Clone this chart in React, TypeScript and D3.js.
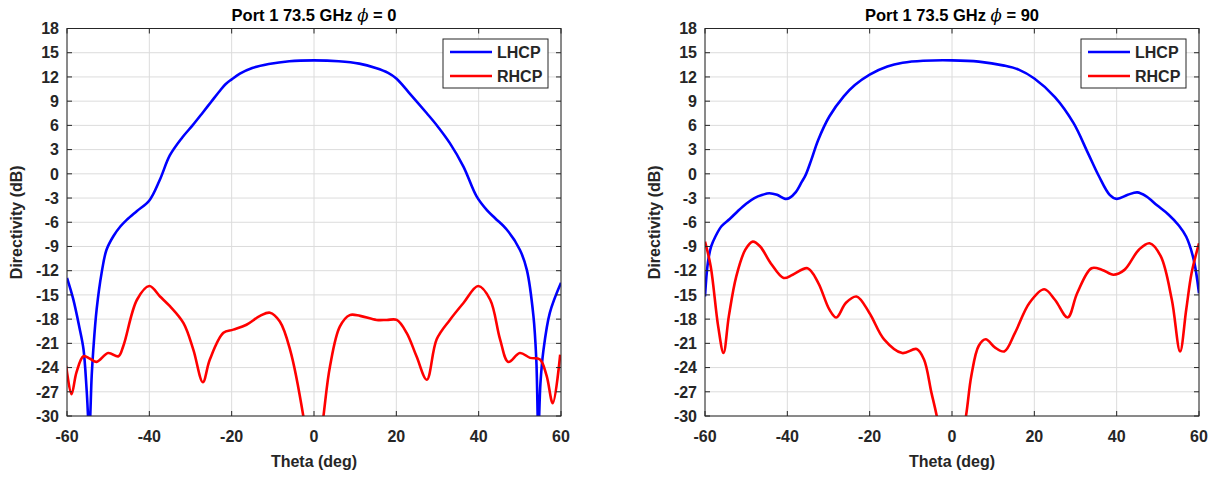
import React, { useEffect, useRef } from "react";
import * as d3 from "d3";

// ---- Data: phi = 0 cut ----
const thetaLhcp0 = [-60, -58.5, -57, -56, -55.2, -54.6, -54, -53.6, -52.8, -51.6, -50.4, -48.7, -47, -45.5, -43, -40, -37.5, -35, -32, -29.5, -27, -25, -23, -21.5, -20, -18, -15, -11, -6, 0, 6, 11, 15, 18, 20, 23, 27.4, 30, 33, 36.3, 39.5, 42, 44, 46.8, 50, 51.7, 53.3, 54, 54.5, 55, 55.7, 57.3, 60];
const lhcp0 = [-12.9, -15.5, -19, -21.7, -27, -32, -25, -21.7, -16.8, -12.3, -9.4, -7.7, -6.5, -5.7, -4.6, -3.3, -0.8, 2.3, 4.5, 6.0, 7.6, 8.9, 10.2, 11.1, 11.7, 12.4, 13.1, 13.6, 13.95, 14.05, 13.95, 13.65, 13.1, 12.5, 11.8, 10.1, 7.5, 5.9, 3.8, 0.9, -2.8, -4.5, -5.5, -6.9, -9.4, -11.9, -17.6, -23, -32, -26, -22, -17.2, -13.5];

const thetaRhcp0 = [-60.2, -58.9, -57.7, -56, -54.4, -52.8, -50, -47.5, -46.3, -43, -40, -37.4, -35, -31.7, -29.3, -27, -25.3, -22, -19.6, -16.4, -13.1, -10.7, -8.3, -5.8, -2.6, 0, 2.3, 3.9, 6.3, 8.7, 11.2, 15.2, 17.7, 20.1, 22.5, 24.9, 27.4, 29.8, 33, 36.3, 39.9, 42.8, 45.2, 47.2, 50, 52.5, 54.9, 56.5, 58, 59.8];
const rhcp0 = [-23.8, -27.3, -24.6, -22.6, -22.9, -23.3, -22.2, -22.6, -21.3, -15.6, -13.9, -15.2, -16.4, -18.5, -21.8, -25.8, -23, -19.7, -19.3, -18.7, -17.6, -17.2, -18.3, -21.8, -30, -40, -30, -23.8, -18.9, -17.5, -17.6, -18.1, -18.1, -18.1, -19.7, -22.6, -25.5, -20.5, -18.1, -16, -13.9, -15.6, -20.5, -23.3, -22.2, -22.8, -23, -25, -28.4, -22.4];

// ---- Data: phi = 90 cut ----
const thetaLhcp90 = [-60, -59.3, -58.5, -57.5, -56, -54, -52, -50, -48, -46, -44.4, -42.5, -40.5, -39.5, -38, -36.5, -35.6, -34.2, -32.5, -29.8, -26.3, -23.6, -20, -15.7, -12, -7, 0, 6.5, 12.7, 16.2, 20, 25, 29.5, 33, 35.7, 38.3, 40, 42.7, 45, 47.2, 49.8, 52.5, 55.1, 56.9, 58.7, 60];
const lhcp90 = [-15.2, -11, -9, -7.8, -6.5, -5.6, -4.6, -3.7, -3.0, -2.6, -2.4, -2.6, -3.1, -3.0, -2.3, -1.0, -0.2, 1.7, 4.2, 7.1, 9.6, 11.0, 12.3, 13.3, 13.75, 14.0, 14.05, 13.9, 13.4, 12.9, 11.8, 9.5, 6.3, 2.6, -0.3, -2.6, -3.1, -2.6, -2.3, -2.8, -3.9, -5.0, -6.4, -7.8, -10.6, -14.8];

const thetaRhcp90 = [-60, -58.6, -56.8, -55.5, -54.2, -52.4, -50.2, -48.4, -46.6, -44, -40.9, -38.7, -35.1, -32.5, -29.8, -28.1, -25.8, -23.2, -20.1, -16.5, -12.1, -8.6, -6.8, -5, -3.7, 0, 3.4, 4.7, 6.5, 8.2, 10.4, 12.7, 15.3, 18.8, 22.4, 25, 28.1, 30.4, 33.9, 36.5, 39.2, 41.9, 45.4, 48, 50.7, 53.4, 55.4, 56.9, 58.2, 60];
const rhcp90 = [-8.4, -11.5, -18.9, -22.2, -17.6, -12.7, -9.4, -8.4, -9, -11.1, -12.9, -12.5, -11.7, -13.5, -16.8, -17.8, -16, -15.2, -17.2, -20.5, -22.2, -21.7, -23, -27.1, -30, -40, -30, -25, -21.3, -20.5, -21.5, -22, -19.7, -16, -14.3, -15.6, -17.8, -14.8, -11.7, -11.9, -12.5, -11.9, -9.4, -8.6, -10.2, -15.6, -22, -16.8, -12.3, -8.6];

const xTicks = [-60, -40, -20, 0, 20, 40, 60];
const yTicks = [18, 15, 12, 9, 6, 3, 0, -3, -6, -9, -12, -15, -18, -21, -24, -27, -30];
const seriesNames = ["LHCP", "RHCP"];
const seriesColors = ["#0000ff", "#ff0000"];
const phiValues = ["0", "90"];

const panels = [
  { phi: phiValues[0], left: 67, lt: thetaLhcp0, lv: lhcp0, rt: thetaRhcp0, rv: rhcp0 },
  { phi: phiValues[1], left: 705, lt: thetaLhcp90, lv: lhcp90, rt: thetaRhcp90, rv: rhcp90 },
];

const W = 494;
const TOP = 28.5;
const BOTTOM = 416;
const AX = "#262626";
const FONT = "'Liberation Sans', Arial, Helvetica, sans-serif";

export default function App() {
  const ref = useRef<SVGSVGElement>(null);
  useEffect(() => {
    const svg = d3.select(ref.current);
    svg.selectAll("*").remove();
    panels.forEach((p, i) => {
      const x = d3.scaleLinear().domain([-60, 60]).range([p.left, p.left + W]);
      const y = d3.scaleLinear().domain([-30, 18]).range([BOTTOM, TOP]);
      const g = svg.append("g");
      const clipId = "clip" + i;
      svg.append("defs").append("clipPath").attr("id", clipId)
        .append("rect").attr("x", p.left).attr("y", TOP).attr("width", W).attr("height", BOTTOM - TOP);

      g.append("rect").attr("x", p.left).attr("y", TOP).attr("width", W).attr("height", BOTTOM - TOP).attr("fill", "#fff");
      // grid
      xTicks.forEach((t) => {
        g.append("line").attr("x1", x(t)).attr("x2", x(t)).attr("y1", TOP).attr("y2", BOTTOM)
          .attr("stroke", "#dcdcdc").attr("stroke-width", 1);
      });
      yTicks.forEach((t) => {
        g.append("line").attr("x1", p.left).attr("x2", p.left + W).attr("y1", y(t)).attr("y2", y(t))
          .attr("stroke", "#dcdcdc").attr("stroke-width", 1);
      });
      // lines
      const line = d3.line<[number, number]>().x((d) => x(d[0])).y((d) => y(d[1])).curve(d3.curveCatmullRom.alpha(0.5));
      const curves: [number[], number[]][] = [[p.lt, p.lv], [p.rt, p.rv]];
      const cg = g.append("g").attr("clip-path", `url(#${clipId})`);
      curves.forEach(([tt, vv], k) => {
        const pts = tt.map((t, j) => [t, vv[j]] as [number, number]);
        cg.append("path").attr("d", line(pts)).attr("fill", "none")
          .attr("stroke", seriesColors[k]).attr("stroke-width", 2.6).attr("stroke-linejoin", "round");
      });
      // box
      g.append("rect").attr("x", p.left).attr("y", TOP).attr("width", W).attr("height", BOTTOM - TOP)
        .attr("fill", "none").attr("stroke", AX).attr("stroke-width", 1);
      // ticks inward
      const TL = 5;
      xTicks.forEach((t) => {
        g.append("line").attr("x1", x(t)).attr("x2", x(t)).attr("y1", BOTTOM).attr("y2", BOTTOM - TL).attr("stroke", AX);
        g.append("line").attr("x1", x(t)).attr("x2", x(t)).attr("y1", TOP).attr("y2", TOP + TL).attr("stroke", AX);
        g.append("text").attr("x", x(t)).attr("y", 442).attr("text-anchor", "middle")
          .attr("font-family", FONT).attr("font-weight", "bold").attr("font-size", 16).attr("fill", AX).text(String(t));
      });
      yTicks.forEach((t) => {
        g.append("line").attr("x1", p.left).attr("x2", p.left + TL).attr("y1", y(t)).attr("y2", y(t)).attr("stroke", AX);
        g.append("line").attr("x1", p.left + W).attr("x2", p.left + W - TL).attr("y1", y(t)).attr("y2", y(t)).attr("stroke", AX);
        g.append("text").attr("x", p.left - 8).attr("y", y(t)).attr("dy", "0.36em").attr("text-anchor", "end")
          .attr("font-family", FONT).attr("font-weight", "bold").attr("font-size", 16).attr("fill", AX).text(String(t));
      });
      // axis labels
      g.append("text").attr("x", p.left + W / 2).attr("y", 467).attr("text-anchor", "middle")
        .attr("font-family", FONT).attr("font-weight", "bold").attr("font-size", 16).attr("fill", AX).text("Theta (deg)");
      g.append("text").attr("transform", `translate(${p.left - 45},${(TOP + BOTTOM) / 2}) rotate(-90)`)
        .attr("text-anchor", "middle")
        .attr("font-family", FONT).attr("font-weight", "bold").attr("font-size", 16).attr("fill", AX).text("Directivity (dB)");
      // title
      const title = g.append("text").attr("x", p.left + W / 2).attr("y", 21).attr("text-anchor", "middle")
        .attr("font-family", FONT).attr("font-weight", "bold").attr("font-size", 16.5).attr("fill", "#000");
      title.append("tspan").text("Port 1 73.5 GHz ");
      title.append("tspan").attr("font-style", "italic").attr("font-weight", "normal").attr("font-family", "'DejaVu Serif', serif").text("\u03d5");
      title.append("tspan").text(" = " + p.phi);
      // legend
      const lx = p.left + W - 13 - 105;
      const ly = 39;
      g.append("rect").attr("x", lx).attr("y", ly).attr("width", 105).attr("height", 49)
        .attr("fill", "#fff").attr("stroke", AX).attr("stroke-width", 1);
      seriesNames.forEach((n, k) => {
        const yy = ly + 13 + k * 24;
        g.append("line").attr("x1", lx + 7).attr("x2", lx + 49).attr("y1", yy).attr("y2", yy)
          .attr("stroke", seriesColors[k]).attr("stroke-width", 2.6);
        g.append("text").attr("x", lx + 54).attr("y", yy).attr("dy", "0.36em")
          .attr("font-family", FONT).attr("font-weight", "bold").attr("font-size", 16).attr("fill", AX).text(n);
      });
    });
  }, []);
  return (
    <svg ref={ref} width={1222} height={477} style={{ position: "absolute", left: 0, top: 0, background: "#fff" }} />
  );
}
